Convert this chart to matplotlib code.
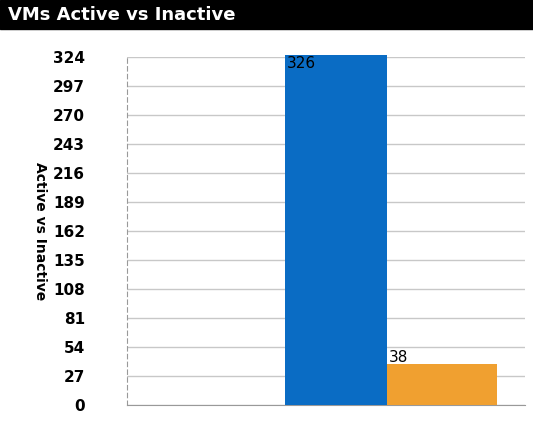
import matplotlib
matplotlib.use('Agg')
import matplotlib.pyplot as plt

categories = ['Active', 'Inactive']
values = [326, 38]
colors = ['#0a6cc4', '#f0a030']
yticks = list(range(0, 325, 27))

fig = plt.figure(figsize=(5.33, 4.21), dpi=100)
fig.patches.append(plt.Rectangle((0, 0.93), 1, 0.07, transform=fig.transFigure,
                                 color='black', zorder=0))
fig.text(0.015, 0.965, 'VMs Active vs Inactive', color='white', fontsize=13,
         fontweight='bold', va='center', ha='left')

ax = fig.add_axes([0.238, 0.038, 0.747, 0.827])
xs = [0.525, 0.7915]
widths = [0.256, 0.277]
for x, w, v, c in zip(xs, widths, values, colors):
    ax.bar(x, v, width=w, color=c, zorder=3, clip_on=False)
    ax.text(x - w / 2 + 0.005, v - 1, str(v), ha='left', va='top' if v > 100 else 'bottom',
            fontsize=11, zorder=4)

ax.set_xlim(0, 1)
ax.set_ylim(0, 324)
ax.set_yticks(yticks)
ax.set_yticklabels([str(t) for t in yticks], fontweight='bold', fontsize=11)
ax.set_xticks([])
ax.yaxis.grid(True, color='#c8c8c8', linewidth=1, zorder=0)
for s in ['top', 'right']:
    ax.spines[s].set_visible(False)
ax.spines['left'].set_linestyle((0, (4, 3)))
ax.spines['left'].set_color('#999999')
ax.spines['bottom'].set_color('#999999')
ax.tick_params(axis='y', length=0, pad=30)
fig.text(0.075, 0.45, 'Active vs Inactive', rotation=-90, fontsize=10,
         fontweight='bold', ha='center', va='center')

fig.savefig('out.png', dpi=100)
